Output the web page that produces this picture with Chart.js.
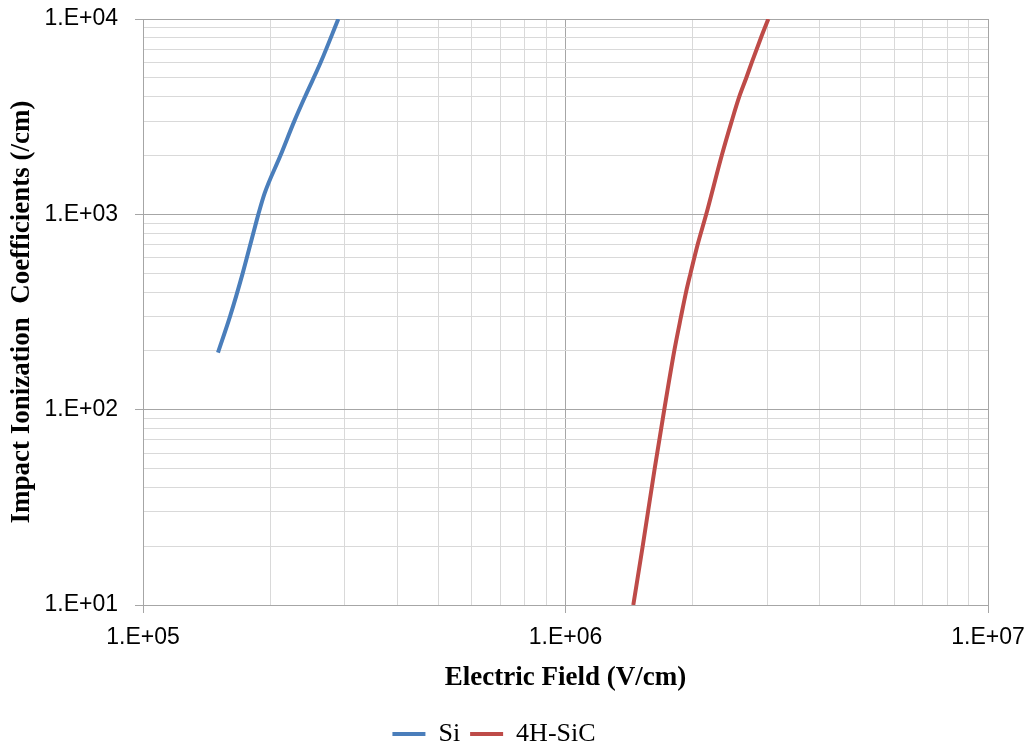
<!DOCTYPE html>
<html>
<head>
<meta charset="utf-8">
<script src="https://cdn.jsdelivr.net/npm/chart.js@4"></script>
<style>
  html, body { margin: 0; padding: 0; background: #fff; }
  #wrap { width: 1031px; height: 746px; }
</style>
</head>
<body>
<div id="wrap"><canvas id="chart" width="1031" height="746"></canvas></div>
<script>
// Electric field (V/cm) and impact ionization coefficient (/cm)
const siField = [1.505e5, 1.607e5, 1.722e5, 1.824e5, 1.875e5, 1.94e5, 2.115e5, 2.281e5, 2.418e5, 2.634e5, 2.899e5];
const siAlpha = [196, 300, 500, 800, 1000, 1280, 2000, 3000, 4000, 6000, 10000];

const sicField = [1.447e6, 1.523e6, 1.626e6, 1.713e6, 1.809e6, 1.877e6, 1.929e6, 1.977e6, 2.055e6, 2.153e6, 2.343e6, 2.474e6, 2.578e6, 2.679e6, 2.76e6, 2.9e6, 3.02e6];
const sicAlpha = [10, 20, 50, 100, 200, 300, 400, 500, 700, 1000, 2000, 3000, 4000, 5000, 6000, 8000, 10000];

// axis ticks
const xMajor = [1e5, 1e6, 1e7];
const xMajorLabels = ["1.E+05", "1.E+06", "1.E+07"];
const yMajor = [1e1, 1e2, 1e3, 1e4];
const yMajorLabels = ["1.E+01", "1.E+02", "1.E+03", "1.E+04"];
const minorSteps = [2, 3, 4, 5, 6, 7, 8, 9];

function tickValues(majors) {
  const out = [];
  majors.forEach((m, i) => {
    out.push(m);
    if (i < majors.length - 1) minorSteps.forEach((s) => out.push(m * s));
  });
  return out;
}

function majorIndex(majors, v) {
  return majors.findIndex((m) => Math.abs(v - m) / m < 1e-9);
}

const majorGrid = "#a6a6a6";
const minorGrid = "#d9d9d9";

function gridColor(majors) {
  return (ctx) => {
    if (!ctx.tick) return majorGrid;
    return majorIndex(majors, ctx.tick.value) >= 0 ? majorGrid : minorGrid;
  };
}
function tickMarkColor(majors) {
  return (ctx) => {
    if (!ctx.tick) return majorGrid;
    return majorIndex(majors, ctx.tick.value) >= 0 ? majorGrid : "rgba(0,0,0,0)";
  };
}

const toPoints = (xs, ys) => xs.map((x, i) => ({ x: x, y: ys[i] }));

const tickFont = { family: "Liberation Sans", size: 23 };
const titleFont = { family: "Liberation Serif", size: 27, weight: "bold" };

new Chart(document.getElementById("chart").getContext("2d"), {
  type: "line",
  data: {
    datasets: [
      {
        label: "Si",
        data: toPoints(siField, siAlpha),
        borderColor: "#4a7ebb",
        backgroundColor: "#4a7ebb",
        borderWidth: 4,
        pointRadius: 0,
        cubicInterpolationMode: "monotone",
      },
      {
        label: "4H-SiC",
        data: toPoints(sicField, sicAlpha),
        borderColor: "#be4b48",
        backgroundColor: "#be4b48",
        borderWidth: 4,
        pointRadius: 0,
        cubicInterpolationMode: "monotone",
      },
    ],
  },
  options: {
    responsive: false,
    animation: false,
    layout: { padding: { left: 0, top: 19, right: 43, bottom: -11 } },
    plugins: {
      tooltip: { enabled: false },
      legend: {
        position: "bottom",
        labels: {
          font: { family: "Liberation Serif", size: 26 },
          color: "#000",
          usePointStyle: true,
          pointStyle: "line",
          pointStyleWidth: 33,
          boxHeight: 26,
          padding: 10,
        },
      },
    },
    scales: {
      x: {
        type: "logarithmic",
        min: 1e5,
        max: 1e7,
        afterBuildTicks: (scale) => {
          scale.ticks = tickValues(xMajor).map((v) => ({ value: v }));
        },
        afterFit: (scale) => {
          scale.height = 106;
          scale.paddingLeft = 0;
          scale.paddingRight = 0;
        },
        grid: {
          color: gridColor(xMajor),
          tickColor: tickMarkColor(xMajor),
          tickLength: 8,
          lineWidth: 1,
        },
        border: { color: majorGrid },
        ticks: {
          autoSkip: false,
          maxRotation: 0,
          padding: 11,
          color: "#000",
          font: tickFont,
          callback: (v) => {
            const i = majorIndex(xMajor, v);
            return i >= 0 ? xMajorLabels[i] : "";
          },
        },
        title: {
          display: true,
          text: "Electric Field (V/cm)",
          color: "#000",
          font: titleFont,
          padding: { top: 0, bottom: 17 },
        },
      },
      y: {
        type: "logarithmic",
        min: 1e1,
        max: 1e4,
        afterBuildTicks: (scale) => {
          scale.ticks = tickValues(yMajor).map((v) => ({ value: v }));
        },
        afterFit: (scale) => {
          scale.width = 143;
          scale.paddingTop = 0;
          scale.paddingBottom = 0;
        },
        grid: {
          color: gridColor(yMajor),
          tickColor: tickMarkColor(yMajor),
          tickLength: 8,
          lineWidth: 1,
        },
        border: { color: majorGrid },
        ticks: {
          autoSkip: false,
          padding: 17,
          color: "#000",
          font: tickFont,
          callback: (v) => {
            const i = majorIndex(yMajor, v);
            return i >= 0 ? yMajorLabels[i] : "";
          },
        },
        title: {
          display: true,
          text: "Impact Ionization  Coefficients (/cm)",
          color: "#000",
          font: titleFont,
          padding: { top: 6, bottom: 0 },
        },
      },
    },
  },
});
</script>
</body>
</html>
